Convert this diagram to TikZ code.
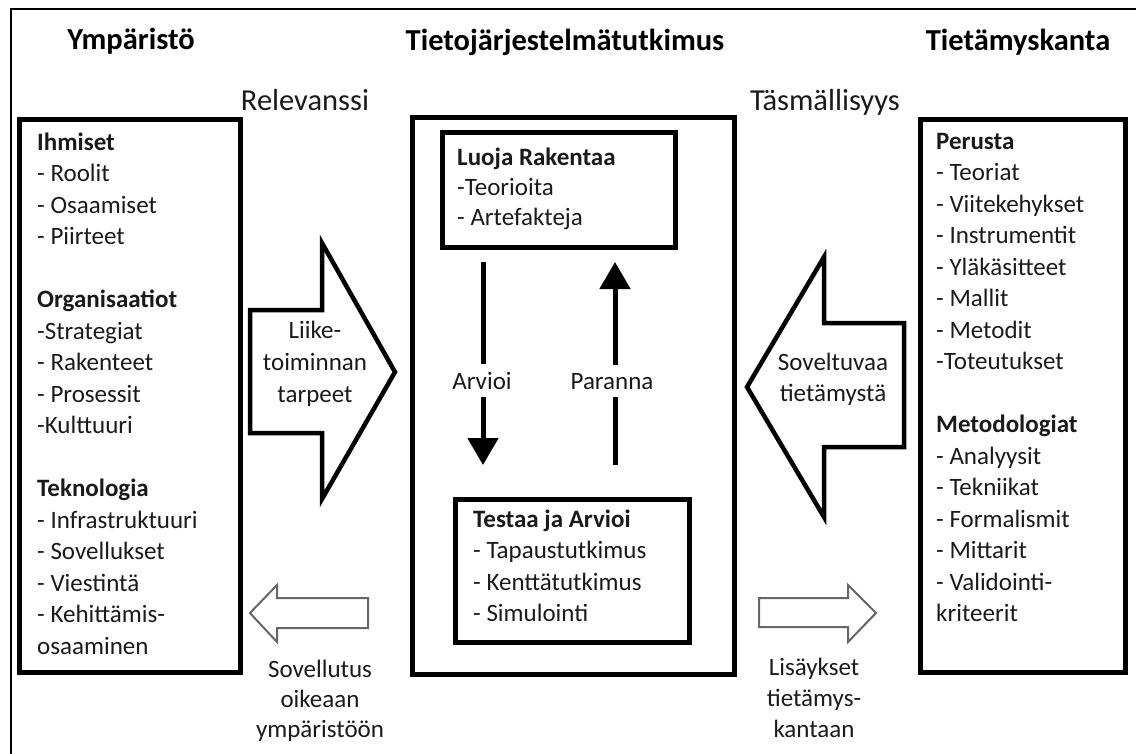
\documentclass[tikz,border=0pt]{standalone}
\usepackage{fontspec}
\setmainfont{Carlito}
\usetikzlibrary{arrows.meta}
\definecolor{ink}{HTML}{1A1A1A}
\definecolor{hollow}{HTML}{666666}
\begin{document}
\begin{tikzpicture}[x=1pt,y=-1pt,
  box/.style={draw=black, line width=4.5pt, rectangle, inner sep=0pt, anchor=north west},
  bigarrow/.style={draw=black, line width=4.5pt, fill=white, line join=miter},
  smallarrow/.style={draw=hollow, line width=2pt, fill=white, line join=miter},
  frame/.style={draw=black, line width=2pt},
  title/.style={anchor=base, inner sep=0pt, text=black, font=\fontsize{30.5}{36}\selectfont\bfseries},
  axis/.style={anchor=base, inner sep=0pt, text=ink, font=\fontsize{30.5}{36}\selectfont},
  listtext/.style={anchor=north west, inner sep=0pt, align=left, text=ink, font=\fontsize{25}{31.5}\selectfont},
  flowtext/.style={anchor=north, inner sep=0pt, align=center, text=ink},
  cyclearrow/.style={draw=black, line width=5pt, -{Triangle[width=30pt,length=27pt]}},
  cyclelabel/.style={anchor=base, fill=white, inner xsep=3pt, inner ysep=8pt, text=ink, font=\fontsize{25}{30}\selectfont}
]
\useasboundingbox (0,0) rectangle (1136,753);

% outer frame (open to the right and bottom)
\draw[frame] (1140,9) -- (11,9) -- (11,757);

% column titles
\node[title] (tEnv) at (131,49) {Ympäristö};
\node[title] (tIS) at (565,50) {Tietojärjestelmätutkimus};
\node[title] (tKB) at (1018,50) {Tietämyskanta};
\node[axis] (rel) at (305,110) {Relevanssi};
\node[axis] (rig) at (825,110) {Täsmällisyys};

% environment
\node[box, minimum width=221pt, minimum height=553pt] (env) at (17,117) {};
\node[listtext] (envText) at (37,127.95) {\strut\textbf{Ihmiset}\\
- Roolit\\
- Osaamiset\\
- Piirteet\\[31.5pt]
\textbf{Organisaatiot}\\
-Strategiat\\
- Rakenteet\\
- Prosessit\\
-Kulttuuri\\[31.5pt]
\textbf{Teknologia}\\
- Infrastruktuuri\\
- Sovellukset\\
- Viestintä\\
- Kehittämis-\\
osaaminen};

% knowledge base
\node[box, minimum width=205pt, minimum height=553pt] (kb) at (918,117) {};
\node[listtext] (kbText) at (936,126.95) {\strut\textbf{Perusta}\\
- Teoriat\\
- Viitekehykset\\
- Instrumentit\\
- Yläkäsitteet\\
- Mallit\\
- Metodit\\
-Toteutukset\\[31.5pt]
\textbf{Metodologiat}\\
- Analyysit\\
- Tekniikat\\
- Formalismit\\
- Mittarit\\
- Validointi-\\
kriteerit};

% IS research
\node[box, minimum width=322pt, minimum height=557pt] (isr) at (410,115) {};
\node[box, minimum width=233pt, minimum height=115pt] (build) at (440,130) {};
\node[listtext, font=\fontsize{25}{30}\selectfont] (buildText) at (457,144) {\strut\textbf{Luoja Rakentaa}\\
-Teorioita\\
- Artefakteja};
\node[box, minimum width=234pt, minimum height=143pt] (assess) at (453,497) {};
\node[listtext] (assessText) at (473,504.95) {\strut\textbf{Testaa ja Arvioi}\\
- Tapaustutkimus\\
- Kenttätutkimus\\
- Simulointi};

% assess / refine cycle
\coordinate (evalStart) at (483,262);
\coordinate (evalEnd) at (483,465);
\coordinate (refStart) at (615,465);
\coordinate (refEnd) at (615,262);
\draw[cyclearrow] (evalStart) -- (evalEnd);
\draw[cyclearrow] (refStart) -- (refEnd);
\node[cyclelabel] (evalLbl) at (482,389) {Arvioi};
\node[cyclelabel] (refLbl) at (612,389) {Paranna};

% business needs arrow
\draw[bigarrow] (250,310) -- (322,310) -- (322,243) -- (395,372) -- (322,499) -- (322,433) -- (250,433) -- cycle;
\node[flowtext, font=\fontsize{25}{32}\selectfont] (needs) at (315,315.6) {\strut Liike-\\toiminnan\\tarpeet};

% applicable knowledge arrow
\draw[bigarrow] (904,323) -- (824,323) -- (824,257) -- (747,387) -- (824,517) -- (824,447) -- (904,447) -- cycle;
\node[flowtext, font=\fontsize{25}{31}\selectfont] (know) at (833,348.3) {\strut Soveltuvaa\\tietämystä};

% application and additions
\draw[smallarrow] (368,598) -- (277,598) -- (277,585) -- (250,613) -- (277,642) -- (277,628) -- (368,628) -- cycle;
\node[flowtext, font=\fontsize{25}{30}\selectfont] (appl) at (320,656) {\strut Sovellutus\\oikeaan\\ympäristöön};
\draw[smallarrow] (759,598) -- (848,598) -- (848,585) -- (876,613) -- (848,642) -- (848,627) -- (759,627) -- cycle;
\node[flowtext, font=\fontsize{25}{31}\selectfont] (add) at (814,653.3) {\strut Lisäykset\\tietämys-\\kantaan};
\end{tikzpicture}
\end{document}
